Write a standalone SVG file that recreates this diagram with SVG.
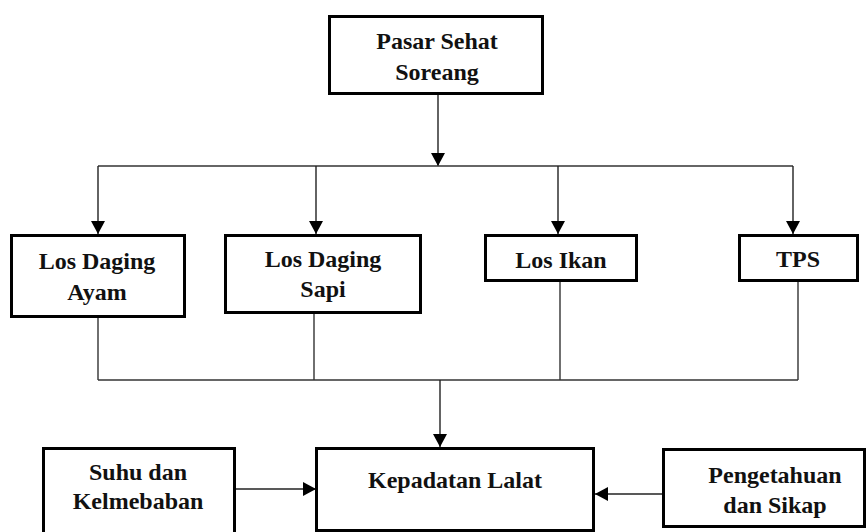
<svg xmlns="http://www.w3.org/2000/svg" width="867" height="532" viewBox="0 0 867 532">
<style>
  .box { fill: #ffffff; stroke: #000000; stroke-width: 3; }
  .lbl { font-family: 'Liberation Serif', 'Times New Roman', serif; font-weight: bold; font-size: 24px; fill: #111111; text-anchor: middle; }
  .con { fill: none; stroke: #333333; stroke-width: 1.4; }
  .arr { fill: none; stroke: #222222; stroke-width: 1.4; marker-end: url(#ah); }
</style>
<defs>
  <marker id="ah" markerUnits="userSpaceOnUse" markerWidth="14" markerHeight="14" refX="13" refY="7" orient="auto">
    <path d="M0,0 L13,7 L0,14 Z" fill="#000000"/>
  </marker>
</defs>
<rect width="867" height="532" fill="#ffffff"/>

<g id="connectors">
  <line class="arr" x1="438" y1="95" x2="438" y2="166"/>
  <line class="con" x1="98" y1="166" x2="793" y2="166"/>
  <line class="arr" x1="98" y1="166" x2="98" y2="234"/>
  <line class="arr" x1="316" y1="166" x2="316" y2="234"/>
  <line class="arr" x1="558" y1="166" x2="558" y2="234"/>
  <line class="arr" x1="793" y1="166" x2="793" y2="234"/>
  <line class="con" x1="98" y1="318" x2="98" y2="380"/>
  <line class="con" x1="314" y1="314" x2="314" y2="380"/>
  <line class="con" x1="560" y1="282" x2="560" y2="380"/>
  <line class="con" x1="798" y1="282" x2="798" y2="380"/>
  <line class="con" x1="98" y1="380" x2="798" y2="380"/>
  <line class="arr" x1="440" y1="380" x2="440" y2="447"/>
  <line class="arr" x1="236" y1="489" x2="316" y2="489"/>
  <line class="arr" x1="663" y1="494" x2="595" y2="494"/>
</g>

<g id="pasar">
  <rect class="box" x="329.5" y="16.5" width="213" height="77"/>
  <text class="lbl" x="437" y="49">Pasar Sehat</text>
  <text class="lbl" x="437" y="80">Soreang</text>
</g>
<g id="ayam">
  <rect class="box" x="11.5" y="235.5" width="173" height="81"/>
  <text class="lbl" x="97" y="269">Los Daging</text>
  <text class="lbl" x="97" y="300">Ayam</text>
</g>
<g id="sapi">
  <rect class="box" x="225.5" y="235.5" width="195" height="77"/>
  <text class="lbl" x="323" y="267">Los Daging</text>
  <text class="lbl" x="323" y="297">Sapi</text>
</g>
<g id="ikan">
  <rect class="box" x="485.5" y="235.5" width="151" height="45"/>
  <text class="lbl" x="561" y="268">Los Ikan</text>
</g>
<g id="tps">
  <rect class="box" x="739.5" y="235.5" width="118" height="45"/>
  <text class="lbl" x="798" y="267">TPS</text>
</g>
<g id="suhu">
  <rect class="box" x="43.5" y="448.5" width="191" height="95"/>
  <text class="lbl" x="138" y="480">Suhu dan</text>
  <text class="lbl" x="138" y="509">Kelmebaban</text>
</g>
<g id="kepadatan">
  <rect class="box" x="316.5" y="448.5" width="277" height="82"/>
  <text class="lbl" x="455" y="488">Kepadatan Lalat</text>
</g>
<g id="pengetahuan">
  <rect class="box" x="663.5" y="449.5" width="201" height="77"/>
  <text class="lbl" x="775" y="483">Pengetahuan</text>
  <text class="lbl" x="775" y="513">dan Sikap</text>
</g>
</svg>
